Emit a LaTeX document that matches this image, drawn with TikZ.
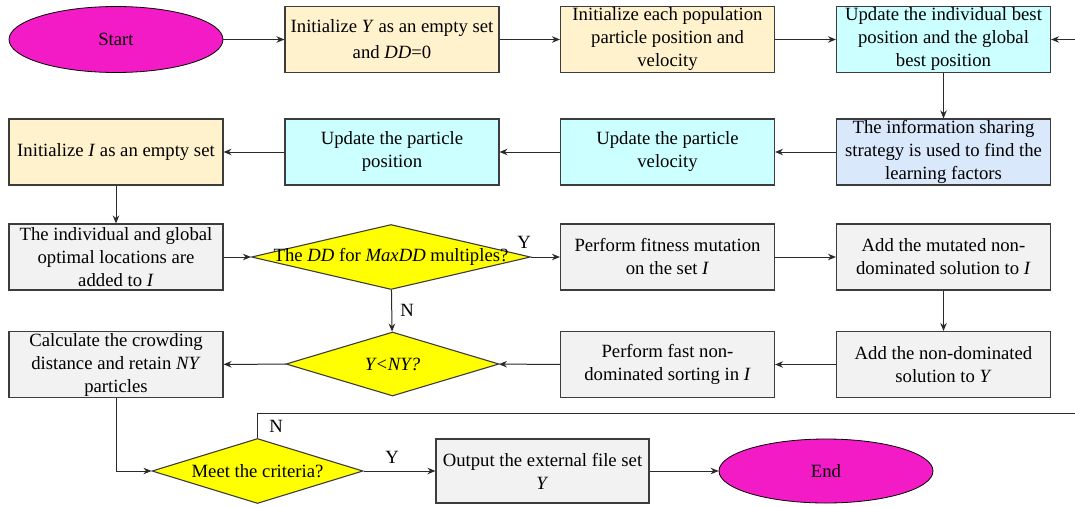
\documentclass[tikz,border=0pt]{standalone}
\usepackage{fontspec}
\setmainfont{Liberation Serif}
\usetikzlibrary{arrows.meta,shapes.geometric}
\definecolor{cMagenta}{HTML}{F31BC6}
\definecolor{cBeige}{HTML}{FFF2CC}
\definecolor{cCyan}{HTML}{CCFFFF}
\definecolor{cPale}{HTML}{DAE8FC}
\definecolor{cGrey}{HTML}{F2F2F2}
\definecolor{cYellow}{HTML}{FFFF00}
\definecolor{cEdge}{HTML}{3C3C3C}
\definecolor{cLine}{HTML}{2A2A2A}
\tikzset{
  txt/.style={font=\fontsize{18.7}{23}\selectfont},
  box/.style={txt, rectangle, draw=cEdge, line width=1.1pt, align=center,
    inner sep=0pt, minimum width=214pt, minimum height=66pt},
  beigebox/.style={box, fill=cBeige},
  cyanbox/.style={box, fill=cCyan},
  palebox/.style={box, fill=cPale},
  greybox/.style={box, fill=cGrey},
  term/.style={txt, ellipse, draw=black, line width=0.8pt, fill=cMagenta,
    inner sep=0pt, minimum width=214pt, minimum height=66pt},
  decision/.style={diamond, draw=cEdge, line width=1.1pt, fill=cYellow,
    inner sep=0pt, aspect=3},
  arr/.style={draw=cLine, line width=1pt, -{Stealth[length=8pt,width=6.5pt]}},
  lbl/.style={txt, inner sep=0pt},
}
\begin{document}
\begin{tikzpicture}[x=1pt, y=-1pt]
\useasboundingbox (0,0) rectangle (1075,506);

% row 1
\node[term] (start) at (116,39.5) {Start};
\node[beigebox] (inity) at (392,39.5) {Initialize \textit{Y} as an empty set\\[3pt]and \textit{DD}=0};
\node[beigebox] (initpop) at (667.5,39.5) {Initialize each population\\particle position and\\velocity};
\node[cyanbox] (best) at (943.5,39.5) {Update the individual best\\position and the global\\best position};

% row 2
\node[beigebox] (initi) at (116,152) {Initialize \textit{I} as an empty set};
\node[cyanbox] (pos) at (392,152) {Update the particle\\position};
\node[cyanbox] (vel) at (667.5,152) {Update the particle\\velocity};
\node[palebox] (share) at (943.5,152) {The information sharing\\strategy is used to find the\\learning factors};

% row 3
\node[greybox] (indiv) at (116,257) {The individual and global\\optimal locations are\\added to \textit{I}};
\node[decision, minimum width=279pt, minimum height=65pt] (dd) at (391,257) {};
\node[lbl] at (dd) {The \textit{DD} for \textit{MaxDD} multiples?};
\node[greybox] (fit) at (667.5,257) {Perform fitness mutation\\on the set \textit{I}};
\node[greybox] (mut) at (943.5,257) {Add the mutated non-\\dominated solution to \textit{I}};

% row 4
\node[greybox] (crowd) at (116,364.5) {Calculate the crowding\\distance and retain \textit{NY}\\particles};
\node[decision, minimum width=213pt, minimum height=64pt] (ny) at (392.5,364) {};
\node[lbl] at (ny) {\textit{Y<NY?}};
\node[greybox] (fast) at (667.5,364.5) {Perform fast non-\\dominated sorting in \textit{I}};
\node[greybox] (addy) at (943.5,364.5) {Add the non-dominated\\solution to \textit{Y}};

% row 5
\node[decision, minimum width=211pt, minimum height=65pt] (crit) at (257.5,471) {};
\node[lbl] at (crit) {Meet the criteria?};
\node[greybox, minimum width=213pt, minimum height=64pt] (out) at (542.5,471) {Output the external file set\\\textit{Y}};
\node[term, minimum height=64pt] (end) at (826,471) {End};

% connectors
\draw[arr] (start) -- (inity);
\draw[arr] (inity) -- (initpop);
\draw[arr] (initpop) -- (best);
\draw[arr] (best) -- (share);
\draw[arr] (share) -- (vel);
\draw[arr] (vel) -- (pos);
\draw[arr] (pos) -- (initi);
\draw[arr] (initi) -- (indiv);
\draw[arr] (indiv) -- (dd);
\draw[arr] (dd) -- (fit);
\draw[arr] (fit) -- (mut);
\draw[arr] (mut) -- (addy);
\draw[arr] (addy) -- (fast);
\draw[arr] (fast) -- (ny);
\draw[arr] (ny) -- (crowd);
\draw[arr] (dd) -- (ny);
\draw[arr] (crowd.south) |- (crit.west);
\draw[arr] (crit) -- (out);
\draw[arr] (out) -- (end);

% loop back when the criteria are not met
\coordinate (loopR) at (1082,413);
\draw[arr] (crit.north) |- (loopR) |- (best.east);

% branch labels
\node[lbl] at (524,242) {Y};
\node[lbl] at (407,310) {N};
\node[lbl] at (276,426) {N};
\node[lbl] at (392,457) {Y};
\end{tikzpicture}
\end{document}
